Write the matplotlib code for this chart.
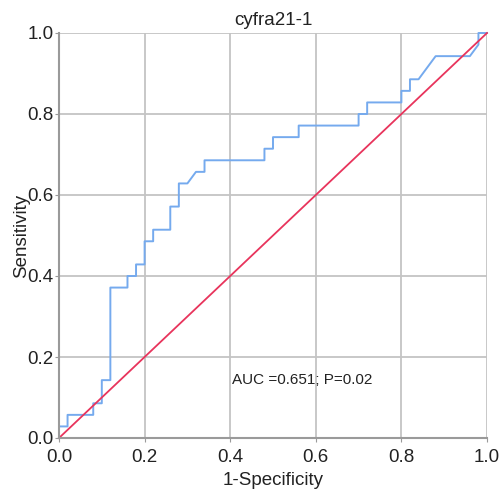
import matplotlib
matplotlib.use("Agg")
import matplotlib.pyplot as plt

fpr = [0, 0, 0.02, 0.02, 0.08, 0.08, 0.10, 0.10, 0.12, 0.12, 0.16, 0.16, 0.18, 0.18,
       0.20, 0.20, 0.22, 0.22, 0.26, 0.26, 0.28, 0.28, 0.30, 0.32, 0.34, 0.34, 0.48, 0.48,
       0.50, 0.50, 0.56, 0.56, 0.70, 0.70, 0.72, 0.72, 0.80, 0.80, 0.82, 0.82, 0.84, 0.88,
       0.96, 0.98, 0.98, 1.0]
tpr = [0, 1, 1, 2, 2, 3, 3, 5, 5, 13, 13, 14, 14, 15,
       15, 17, 17, 18, 18, 20, 20, 22, 22, 23, 23, 24, 24, 25,
       25, 26, 26, 27, 27, 28, 28, 29, 29, 30, 30, 31, 31, 33,
       33, 34, 35, 35]
tpr = [v / 35 for v in tpr]
ticks = [0.0, 0.2, 0.4, 0.6, 0.8, 1.0]
tick_labels = ["0.0", "0.2", "0.4", "0.6", "0.8", "1.0"]

plt.rcParams['font.family'] = ['Liberation Sans', 'DejaVu Sans']

fig = plt.figure(figsize=(5.01, 4.90), dpi=100)
ax = fig.add_axes([59/501, 1-438/490, 428/501, 405/490])
ax.set_xlim(0, 1)
ax.set_ylim(0, 1)
ax.set_xticks(ticks)
ax.set_yticks(ticks)
ax.set_xticklabels(tick_labels, fontsize=13.5)
ax.set_yticklabels(tick_labels, fontsize=13.5)
ax.grid(True, color="#c4c4c4", linewidth=1.3)
ax.set_axisbelow(True)
for s in ["top", "right"]:
    ax.spines[s].set_visible(False)
for s in ["left", "bottom"]:
    ax.spines[s].set_color("#9a9a9a")
    ax.spines[s].set_linewidth(1.5)
ax.tick_params(axis="y", length=3, color="#9a9a9a", pad=1, labelcolor="#222222")
ax.tick_params(axis="x", length=3, color="#9a9a9a", pad=5, labelcolor="#222222")

ax.plot(fpr, tpr, color="#75aaee", linewidth=1.4, clip_on=False)
ax.plot([0, 1], [0, 1], color="#e8345c", linewidth=1.3, clip_on=False)

ax.set_title("cyfra21-1", fontsize=13.5, pad=6, color="#222222")
ax.set_xlabel("1-Specificity", fontsize=13.5, labelpad=4, color="#222222")
ax.set_ylabel("Sensitivity", fontsize=13.5, labelpad=-2, color="#222222")
ax.text(0.404, 0.142, "AUC =0.651; P=0.02", fontsize=11, va="center", ha="left", color="#222222")

fig.savefig("out.png", dpi=100)
